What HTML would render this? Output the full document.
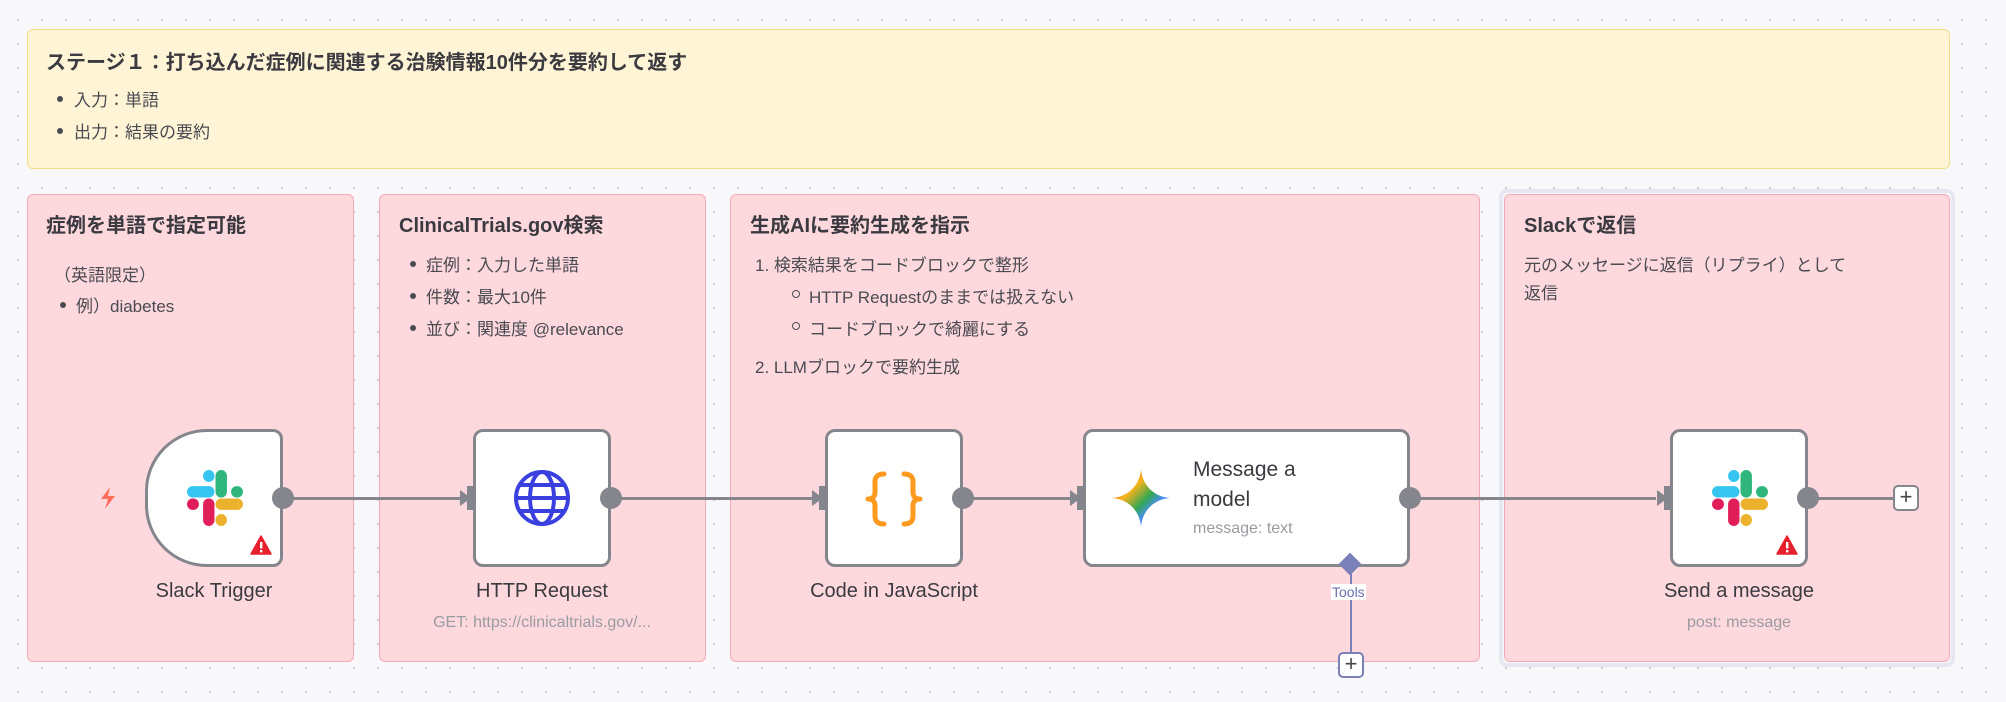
<!DOCTYPE html>
<html><head><meta charset="utf-8">
<style>
*{margin:0;padding:0;box-sizing:border-box}
body{width:2006px;height:702px;overflow:hidden;background:#f8f8fb;background-image:radial-gradient(circle,#c9c9d3 1px,transparent 1.3px);background-size:24px 24px;background-position:6px 8px;font-family:"Liberation Sans","Noto Sans CJK JP",sans-serif;color:#4a4a52;position:relative}
.a{position:absolute}
.sticky{position:absolute;border-radius:6px}
.y{background:#fff5d6;border:1.5px solid #f5dc8a}
.p{background:#fdd9de;border:1.5px solid #f4aab5}
.t{position:absolute;font-weight:bold;font-size:20px;color:#3a3a40;white-space:nowrap}
.x{position:absolute;font-size:17px;color:#4a4a52;white-space:nowrap}
.b{position:absolute;width:6px;height:6px;border-radius:50%;background:#4a4a52}
.c{position:absolute;width:8px;height:8px;border-radius:50%;border:1.3px solid #4a4a52}
.node{position:absolute;background:#fff;border:3px solid #85858d;border-radius:10px}
.lbl{position:absolute;font-size:20px;color:#3a3a40;text-align:center;white-space:nowrap;transform:translateX(-50%)}
.sub{position:absolute;font-size:16px;color:#9a9aa2;text-align:center;white-space:nowrap;transform:translateX(-50%)}
.dot{position:absolute;width:22px;height:22px;border-radius:50%;background:#85858d}
.line{position:absolute;height:3px;background:#85858d}
.in{position:absolute;width:10px;height:24px;background:#85858d}
.arr{position:absolute;width:0;height:0;border-top:8px solid transparent;border-bottom:8px solid transparent;border-left:11px solid #85858d}
.plus{position:absolute;width:26px;height:26px;border:2.5px solid #85858d;border-radius:5px;background:#fff;font-size:22px;line-height:20px;text-align:center;color:#444}
</style></head><body>

<div class="sticky y" style="left:27px;top:29px;width:1923px;height:140px"></div>
<div class="t" style="left:46px;top:46px">ステージ１：打ち込んだ症例に関連する治験情報10件分を要約して返す</div>
<div class="b" style="left:57px;top:96px"></div><div class="x" style="left:74px;top:86px">入力：単語</div>
<div class="b" style="left:57px;top:128px"></div><div class="x" style="left:74px;top:118px">出力：結果の要約</div>

<div class="sticky p" style="left:27px;top:194px;width:327px;height:468px"></div>
<div class="sticky p" style="left:379px;top:194px;width:327px;height:468px"></div>
<div class="sticky p" style="left:730px;top:194px;width:750px;height:468px"></div>
<div class="a" style="left:1499px;top:189px;width:456px;height:478px;border:4px solid #e5e8f0;border-radius:8px"></div>
<div class="sticky p" style="left:1504px;top:194px;width:446px;height:468px"></div>

<div class="t" style="left:46px;top:209px">症例を単語で指定可能</div>
<div class="x" style="left:54px;top:261px">（英語限定）</div>
<div class="b" style="left:60px;top:302px"></div><div class="x" style="left:76px;top:292px">例）diabetes</div>

<div class="t" style="left:399px;top:209px">ClinicalTrials.gov検索</div>
<div class="b" style="left:410px;top:261px"></div><div class="x" style="left:426px;top:251px">症例：入力した単語</div>
<div class="b" style="left:410px;top:293px"></div><div class="x" style="left:426px;top:283px">件数：最大10件</div>
<div class="b" style="left:410px;top:325px"></div><div class="x" style="left:426px;top:315px">並び：関連度 @relevance</div>

<div class="t" style="left:750px;top:209px">生成AIに要約生成を指示</div>
<div class="x" style="left:755px;top:251px">1. 検索結果をコードブロックで整形</div>
<div class="c" style="left:792px;top:290px"></div><div class="x" style="left:809px;top:283px">HTTP Requestのままでは扱えない</div>
<div class="c" style="left:792px;top:322px"></div><div class="x" style="left:809px;top:315px">コードブロックで綺麗にする</div>
<div class="x" style="left:755px;top:353px">2. LLMブロックで要約生成</div>

<div class="t" style="left:1524px;top:209px">Slackで返信</div>
<div class="x" style="left:1524px;top:251px">元のメッセージに返信（リプライ）として</div>
<div class="x" style="left:1524px;top:279px">返信</div>

<!-- connectors -->
<div class="line" style="left:290px;top:497px;width:170px"></div>
<div class="line" style="left:618px;top:497px;width:195px"></div>
<div class="line" style="left:970px;top:497px;width:100px"></div>
<div class="line" style="left:1416px;top:497px;width:240px"></div>
<div class="line" style="left:1815px;top:497px;width:80px"></div>

<!-- slack trigger -->
<svg class="a" style="left:98px;top:486px" width="20" height="24" viewBox="0 0 20 24"><path d="M12 1 L3 13 H10 L7 23 L17 10 H10 Z" fill="#ff6f5c"/></svg>
<div class="node" style="left:145px;top:429px;width:138px;height:138px;border-radius:62px 10px 10px 62px"></div>
<div class="dot" style="left:272px;top:487px"></div>

<!-- http -->
<div class="arr" style="left:460px;top:490px"></div><div class="in" style="left:467px;top:486px"></div>
<div class="node" style="left:473px;top:429px;width:138px;height:138px"></div>
<svg class="a" style="left:512px;top:468px" width="60" height="60" viewBox="0 0 60 60" fill="none" stroke="#3a3fe0" stroke-width="4"><circle cx="30" cy="30" r="26"/><ellipse cx="30" cy="30" rx="12" ry="26"/><line x1="4" y1="30" x2="56" y2="30"/><path d="M8 17 H52 M8 43 H52"/></svg>
<div class="dot" style="left:600px;top:487px"></div>

<!-- code -->
<div class="arr" style="left:812px;top:490px"></div><div class="in" style="left:819px;top:486px"></div>
<div class="node" style="left:825px;top:429px;width:138px;height:138px"></div>
<svg class="a" style="left:864px;top:470px" width="60" height="58" viewBox="0 0 60 58" fill="none" stroke="#ff9a1f" stroke-width="5" stroke-linecap="round" stroke-linejoin="round">
<path d="M20 4 Q11 4 11 12 V22 Q11 29 4 29 Q11 29 11 36 V46 Q11 54 20 54"/>
<path d="M40 4 Q49 4 49 12 V22 Q49 29 56 29 Q49 29 49 36 V46 Q49 54 40 54"/></svg>
<div class="dot" style="left:952px;top:487px"></div>

<!-- message a model -->
<div class="arr" style="left:1070px;top:490px"></div><div class="in" style="left:1077px;top:486px"></div>
<div class="node" style="left:1083px;top:429px;width:327px;height:138px"></div>
<svg class="a" style="left:1111px;top:468px" width="60" height="60" viewBox="0 0 60 60"><defs><linearGradient id="g" x1="0" y1="0" x2="1" y2="1"><stop offset="0" stop-color="#f04a3c"/><stop offset=".35" stop-color="#f7b21b"/><stop offset=".55" stop-color="#34a853"/><stop offset=".7" stop-color="#4a8cff"/><stop offset="1" stop-color="#3a6cf0"/></linearGradient></defs><path d="M30 1 C31 17 43 29 59 30 C43 31 31 43 30 59 C29 43 17 31 1 30 C17 29 29 17 30 1Z" fill="url(#g)"/></svg>
<div class="a" style="left:1193px;top:455px;font-size:21px;color:#3a3a40;line-height:30px">Message a<br>model</div>
<div class="a" style="left:1193px;top:520px;font-size:16px;color:#9a9aa2">message: text</div>
<div class="dot" style="left:1399px;top:487px"></div>
<div class="a" style="left:1350px;top:570px;width:2px;height:84px;background:#7b80b8"></div>
<div class="a" style="left:1342px;top:556px;width:16px;height:16px;background:#7b80b8;transform:rotate(45deg)"></div>
<div class="a" style="left:1331px;top:584px;font-size:14px;color:#6a6fb0;background:#fff;padding:0 1px">Tools</div>
<div class="plus" style="left:1338px;top:652px;border-color:#7b80b8">+</div>

<!-- send message -->
<div class="arr" style="left:1657px;top:490px"></div><div class="in" style="left:1664px;top:486px"></div>
<div class="node" style="left:1670px;top:429px;width:138px;height:138px"></div>
<div class="dot" style="left:1797px;top:487px"></div>
<div class="plus" style="left:1893px;top:485px">+</div>

<!-- slack logos -->
<svg class="a" style="left:186px;top:469px" width="58" height="58" viewBox="0 0 56 56" stroke-linecap="round" fill="none" stroke-width="11">
<line x1="6.5" y1="22" x2="22" y2="22" stroke="#36c5f0"/><line x1="22" y1="6.5" x2="22" y2="7" stroke="#36c5f0"/>
<line x1="34" y1="6.5" x2="34" y2="22" stroke="#2eb67d"/><line x1="49.5" y1="22" x2="49" y2="22" stroke="#2eb67d"/>
<line x1="34" y1="34" x2="49.5" y2="34" stroke="#ecb22e"/><line x1="34" y1="49.5" x2="34" y2="49" stroke="#ecb22e"/>
<line x1="22" y1="34" x2="22" y2="49.5" stroke="#e01e5a"/><line x1="6.5" y1="34" x2="7" y2="34" stroke="#e01e5a"/>
</svg>
<svg class="a" style="left:1711px;top:469px" width="58" height="58" viewBox="0 0 56 56" stroke-linecap="round" fill="none" stroke-width="11">
<line x1="6.5" y1="22" x2="22" y2="22" stroke="#36c5f0"/><line x1="22" y1="6.5" x2="22" y2="7" stroke="#36c5f0"/>
<line x1="34" y1="6.5" x2="34" y2="22" stroke="#2eb67d"/><line x1="49.5" y1="22" x2="49" y2="22" stroke="#2eb67d"/>
<line x1="34" y1="34" x2="49.5" y2="34" stroke="#ecb22e"/><line x1="34" y1="49.5" x2="34" y2="49" stroke="#ecb22e"/>
<line x1="22" y1="34" x2="22" y2="49.5" stroke="#e01e5a"/><line x1="6.5" y1="34" x2="7" y2="34" stroke="#e01e5a"/>
</svg>
<svg class="a" style="left:250px;top:535px" width="22" height="20" viewBox="0 0 22 20"><path d="M11 1 L21 19 H1 Z" fill="#e8202e" stroke="#e8202e" stroke-linejoin="round" stroke-width="1.5"/><rect x="10" y="7" width="2.4" height="6.5" fill="#fff"/><rect x="10" y="15" width="2.4" height="2.4" fill="#fff"/></svg>
<svg class="a" style="left:1776px;top:535px" width="22" height="20" viewBox="0 0 22 20"><path d="M11 1 L21 19 H1 Z" fill="#e8202e" stroke="#e8202e" stroke-linejoin="round" stroke-width="1.5"/><rect x="10" y="7" width="2.4" height="6.5" fill="#fff"/><rect x="10" y="15" width="2.4" height="2.4" fill="#fff"/></svg>

<div class="lbl" style="left:214px;top:580px">Slack Trigger</div>
<div class="lbl" style="left:542px;top:580px">HTTP Request</div>
<div class="sub" style="left:542px;top:614px">GET: https://clinicaltrials.gov/...</div>
<div class="lbl" style="left:894px;top:580px">Code in JavaScript</div>
<div class="lbl" style="left:1739px;top:580px">Send a message</div>
<div class="sub" style="left:1739px;top:614px">post: message</div>
</body></html>
